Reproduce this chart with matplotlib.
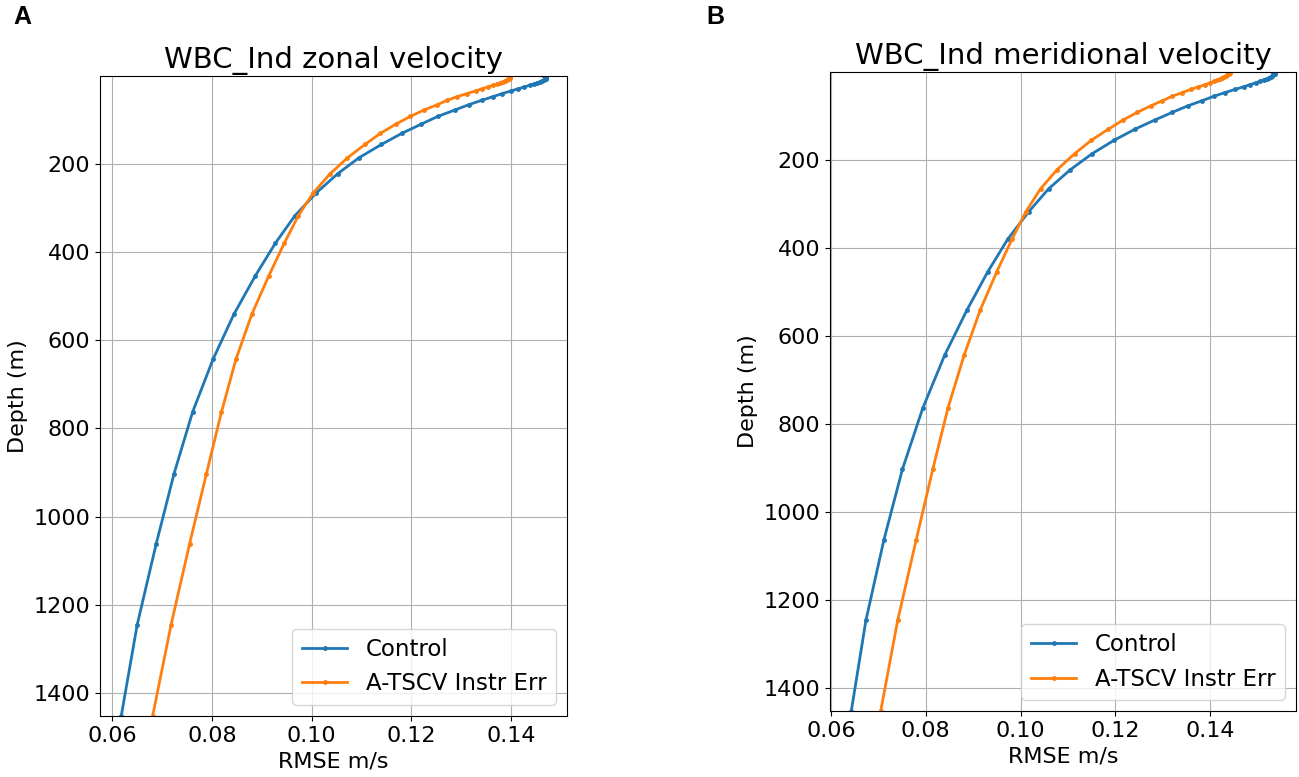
import matplotlib
matplotlib.use("Agg")
import matplotlib.pyplot as plt
import numpy as np

# model depth levels (m)
depth = [0.494, 1.541, 2.646, 3.819, 5.078, 6.441, 7.930, 9.573, 11.405, 13.467,
         15.810, 18.496, 21.599, 25.211, 29.445, 34.434, 40.344, 47.374, 55.764,
         65.807, 77.854, 92.326, 109.729, 130.666, 155.851, 186.126, 222.475,
         266.040, 318.127, 380.213, 453.938, 541.089, 643.567, 763.333, 902.339,
         1062.440, 1245.291, 1452.251]

# WBC_Ind zonal velocity RMSE
zonal_control = [0.1467, 0.1468, 0.1470, 0.1470, 0.1470, 0.1470, 0.1468, 0.1466,
                 0.1463, 0.1458, 0.1453, 0.1446, 0.1438, 0.1427, 0.1415, 0.1400,
                 0.1383, 0.1364, 0.1341, 0.1315, 0.1287, 0.1253, 0.1220, 0.1181,
                 0.1140, 0.1095, 0.1052, 0.1009, 0.0966, 0.0927, 0.0887, 0.0844,
                 0.0802, 0.0761, 0.0724, 0.0688, 0.0650, 0.0618]
zonal_atscv = [0.1398, 0.1398, 0.1399, 0.1399, 0.1398, 0.1397, 0.1395, 0.1392,
               0.1389, 0.1384, 0.1379, 0.1372, 0.1364, 0.1354, 0.1342, 0.1329,
               0.1312, 0.1292, 0.1272, 0.1252, 0.1225, 0.1198, 0.1169, 0.1138,
               0.1107, 0.1072, 0.1037, 0.1003, 0.0973, 0.0945, 0.0914, 0.0880,
               0.0848, 0.0819, 0.0789, 0.0755, 0.0718, 0.0681]

# WBC_Ind meridional velocity RMSE
merid_control = [0.1532, 0.1534, 0.1535, 0.1536, 0.1536, 0.1535, 0.1533, 0.1531,
                 0.1528, 0.1524, 0.1519, 0.1513, 0.1505, 0.1496, 0.1484, 0.1470,
                 0.1452, 0.1431, 0.1408, 0.1383, 0.1352, 0.1320, 0.1283, 0.1241,
                 0.1197, 0.1151, 0.1105, 0.1059, 0.1017, 0.0973, 0.0931, 0.0887,
                 0.0840, 0.0794, 0.0751, 0.0712, 0.0674, 0.0643]
merid_atscv = [0.1440, 0.1441, 0.1441, 0.1440, 0.1439, 0.1437, 0.1435, 0.1432,
               0.1429, 0.1425, 0.1421, 0.1415, 0.1408, 0.1400, 0.1389, 0.1375,
               0.1359, 0.1341, 0.1320, 0.1299, 0.1274, 0.1246, 0.1216, 0.1185,
               0.1149, 0.1114, 0.1077, 0.1042, 0.1011, 0.0982, 0.0950, 0.0915,
               0.0881, 0.0847, 0.0815, 0.0780, 0.0741, 0.0705]

panels = [
    ("A", 0.010, "WBC_Ind zonal velocity", zonal_control, zonal_atscv, [0.077, 0.0785, 0.3595, 0.8237]),
    ("B", 0.544, "WBC_Ind meridional velocity", merid_control, merid_atscv, [0.639, 0.0845, 0.3587, 0.823]),
]

fig = plt.figure(figsize=(12.99, 7.77), dpi=100)
for letter, lx, title, control, atscv, pos in panels:
    ax = fig.add_axes(pos)
    ax.plot(control, depth, '.-', color='#1f77b4', lw=2, ms=5, label='Control')
    ax.plot(atscv, depth, '.-', color='#ff7f0e', lw=2, ms=5, label='A-TSCV Instr Err')
    ax.set_ylim(max(depth), min(depth))
    ax.set_yticks(np.arange(200, 1401, 200))
    ax.set_xticks([0.06, 0.08, 0.10, 0.12, 0.14])
    ax.grid(True)
    ax.tick_params(labelsize=16)
    ax.set_title(title, fontsize=21)
    ax.set_xlabel("RMSE m/s", fontsize=16)
    ax.set_ylabel("Depth (m)", fontsize=16)
    ax.legend(loc='lower right', fontsize=16.5)
    fig.text(lx, 0.978, letter, fontsize=18, fontweight='bold',
             family='Liberation Sans', ha='left', va='center')

plt.savefig("out.png", dpi=100)
